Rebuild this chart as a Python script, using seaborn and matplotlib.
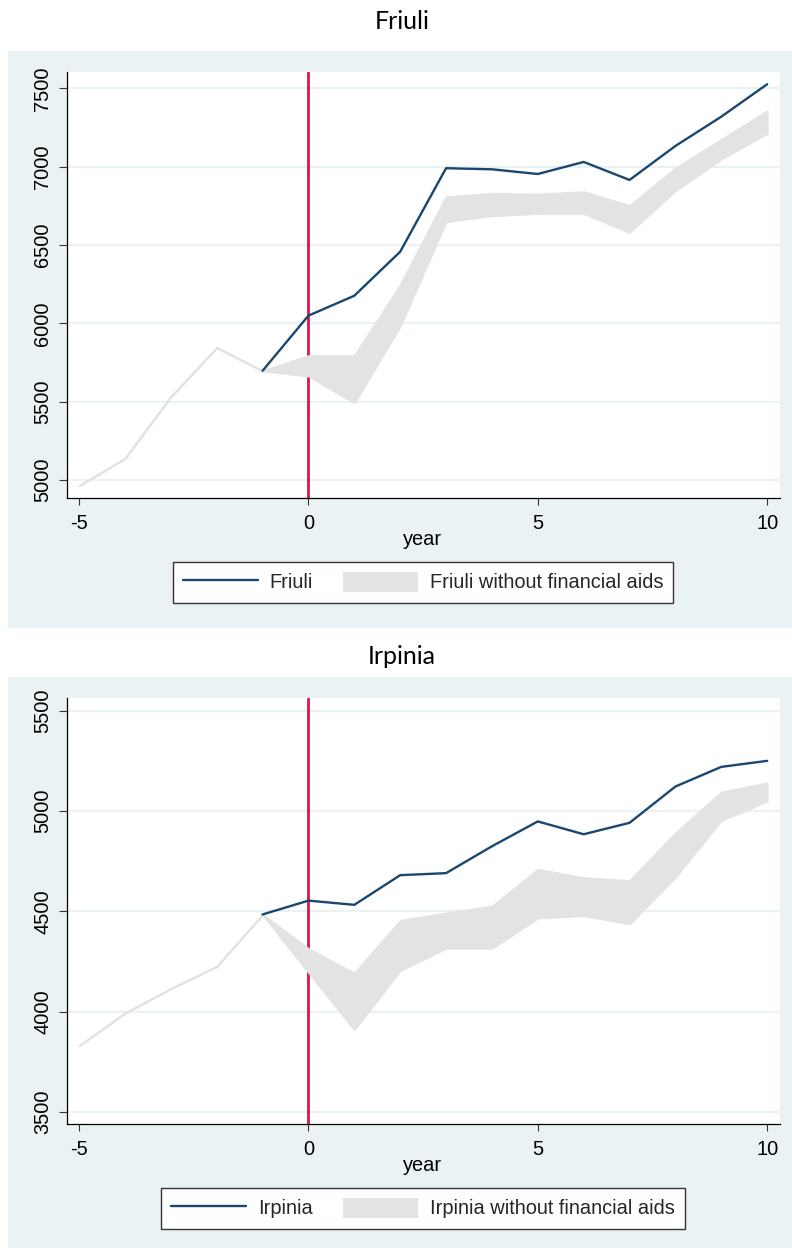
import matplotlib
matplotlib.use("Agg")
import matplotlib.pyplot as plt
from matplotlib.patches import Rectangle, Patch
from matplotlib.lines import Line2D
import seaborn as sns
import numpy as np
import pandas as pd

# ---------------- data ----------------
years = [-5, -4, -3, -2, -1, 0, 1, 2, 3, 4, 5, 6, 7, 8, 9, 10]
actual_years = [-1, 0, 1, 2, 3, 4, 5, 6, 7, 8, 9, 10]

friuli_actual = [5697, 6049, 6176, 6457, 6990, 6983, 6953, 7030, 6915, 7132, 7319, 7526]
friuli_low = [4964, 5138, 5532, 5845, 5697, 5664, 5493, 5983, 6649, 6687, 6702, 6702, 6581, 6847, 7049, 7213]
friuli_high = [4964, 5138, 5532, 5845, 5697, 5793, 5793, 6245, 6808, 6830, 6824, 6840, 6751, 6990, 7174, 7355]

irpinia_actual = [4484, 4553, 4532, 4680, 4690, 4824, 4948, 4884, 4941, 5122, 5220, 5250]
irpinia_low = [3830, 3992, 4115, 4225, 4484, 4196, 3910, 4205, 4316, 4316, 4467, 4479, 4437, 4671, 4953, 5050]
irpinia_high = [3830, 3992, 4115, 4225, 4484, 4313, 4191, 4454, 4491, 4525, 4709, 4667, 4653, 4890, 5094, 5139]

x_ticks = [-5, 0, 5, 10]
friuli_yticks = [5000, 5500, 6000, 6500, 7000, 7500]
irpinia_yticks = [3500, 4000, 4500, 5000, 5500]

# ---------------- style ----------------
sns.set_theme(style="white")
plt.rcParams["font.family"] = ["Liberation Sans", "DejaVu Sans"]

W, H = 792, 1248
BG = "#EAF2F3"
NAVY = "#1a476f"
GREY = "#E3E3E3"
RED = "#E2134A"

fig = plt.figure(figsize=(W / 100, H / 100), dpi=100)
fig.patch.set_facecolor("white")


def px_axes(x0, y0, x1, y1):
    ax = fig.add_axes([x0 / W, 1 - y1 / H, (x1 - x0) / W, (y1 - y0) / H])
    ax.set_zorder(5)
    return ax


def panel(y0, y1):
    fig.patches.append(Rectangle((8 / W, 1 - y1 / H), (W - 8) / W, (y1 - y0) / H,
                                 transform=fig.transFigure, facecolor=BG,
                                 edgecolor="none", zorder=-10))


def draw(ax, name, actual, low, high, yticks, ylim, title_y, xlabel_y, legend_cy):
    ax.set_facecolor("white")
    for y in yticks:
        ax.axhline(y, color=BG, lw=1.6, zorder=0.5)
    ax.axvline(0, color=RED, lw=2.0, zorder=1)
    ax.fill_between(years, low, high, color=GREY, edgecolor=GREY, lw=1.5, zorder=2)
    df = pd.DataFrame({"year": actual_years, "value": actual})
    sns.lineplot(data=df, x="year", y="value", ax=ax, color=NAVY, lw=1.7,
                 zorder=3, legend=False)
    ax.set_xlim(-5.27, 10.28)
    ax.set_ylim(*ylim)
    ax.set_xticks(x_ticks)
    ax.set_xticklabels([str(t) for t in x_ticks])
    ax.set_yticks(yticks)
    ax.set_yticklabels([str(t) for t in yticks])
    for lbl in ax.get_yticklabels():
        lbl.set_rotation(90)
        lbl.set_va("center")
    ax.tick_params(axis="x", length=5.2, width=0.8, color="#333333", pad=6.3,
                   labelsize=14.4, labelcolor="black", bottom=True)
    ax.tick_params(axis="y", length=5.8, width=0.8, color="#333333", pad=4.6,
                   labelsize=14.4, labelcolor="black", left=True)
    for s in ["top", "right"]:
        ax.spines[s].set_visible(False)
    for s in ["left", "bottom"]:
        ax.spines[s].set_color("black")
        ax.spines[s].set_linewidth(0.9)
    ax.set_xlabel("")
    ax.set_ylabel("")
    fig.text(402 / W, 1 - title_y / H, name, ha="center", va="baseline",
             fontsize=18, family=["Lato", "DejaVu Sans"], color="black")
    fig.text(423 / W, 1 - xlabel_y / H, "year", ha="center", va="baseline",
             fontsize=14.4, color="black")
    handles = [Line2D([0], [0], color=NAVY, lw=1.7),
               Patch(facecolor=GREY, edgecolor="none")]
    labels = [name, name + " without financial aids"]
    leg = ax.legend(handles, labels, ncol=2, loc="center",
                    bbox_to_anchor=(423 / W, 1 - legend_cy / H),
                    bbox_transform=fig.transFigure, frameon=True, fancybox=False,
                    edgecolor="#333333", framealpha=1, facecolor="white",
                    fontsize=14.4, handlelength=3.75, handleheight=1.2,
                    handletextpad=0.6, columnspacing=1.5, borderpad=0.5,
                    borderaxespad=0)
    leg.get_frame().set_linewidth(1.0)


# top panel
panel(51, 628)
ax1 = px_axes(66.7, 71.7, 780, 498.3)
draw(ax1, "Friuli", friuli_actual, friuli_low, friuli_high, friuli_yticks,
     (4883, 7606), 29, 545, 582)

# bottom panel
panel(677, 1248)
ax2 = px_axes(66.7, 697.7, 780, 1124)
draw(ax2, "Irpinia", irpinia_actual, irpinia_low, irpinia_high, irpinia_yticks,
     (3439, 5565), 664, 1171, 1208)

fig.savefig("out.png", dpi=100, facecolor="white")
